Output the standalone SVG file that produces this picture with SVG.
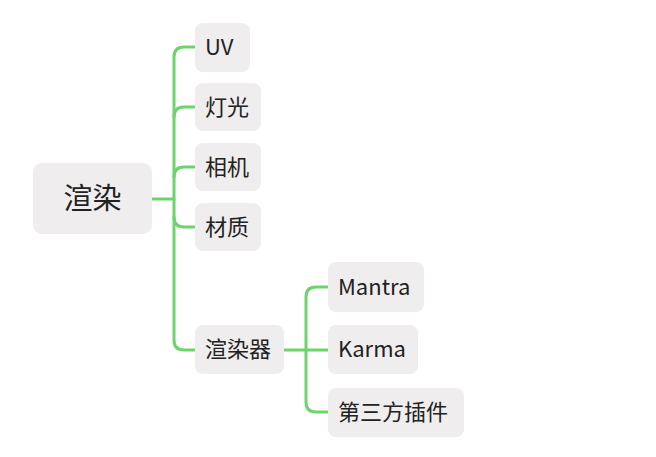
<svg xmlns="http://www.w3.org/2000/svg" width="656" height="457" viewBox="0 0 656 457">
<style>
.n{fill:#efeded}
.t{font-family:"Noto Sans CJK SC","Noto Sans",sans-serif;font-size:22px;fill:#222;dominant-baseline:central}
.r{font-size:29px}
.c{fill:none;stroke:#6fd36b;stroke-width:3;stroke-linecap:round}
</style>
<rect width="656" height="457" fill="#fff"/>
<g id="connectors">
<path class="c" d="M152 199H174"/>
<path class="c" d="M195 47H184Q174 47 174 57V340Q174 350 184 350H195"/>
<path class="c" d="M174 117Q174 107 184 107H195"/>
<path class="c" d="M174 177Q174 167 184 167H195"/>
<path class="c" d="M174 217Q174 227 184 227H195"/>
<path class="c" d="M284 350H328"/>
<path class="c" d="M328 287H316Q306 287 306 297V402Q306 412 316 412H328"/>
</g>
<g id="root"><rect class="n" x="33" y="163" width="119" height="71" rx="9"/><text class="t r" x="92.5" y="196" text-anchor="middle">渲染</text></g>
<g id="uv"><rect class="n" x="195" y="23" width="55" height="49" rx="8"/><text class="t" x="205" y="45">UV</text></g>
<g id="light"><rect class="n" x="195" y="83" width="66" height="48" rx="8"/><text class="t" x="205" y="104.5">灯光</text></g>
<g id="camera"><rect class="n" x="195" y="143" width="66" height="48" rx="8"/><text class="t" x="205" y="164.5">相机</text></g>
<g id="material"><rect class="n" x="195" y="203" width="66" height="48" rx="8"/><text class="t" x="205" y="224.5">材质</text></g>
<g id="renderer"><rect class="n" x="195" y="325" width="89" height="49" rx="8"/><text class="t" x="205" y="347">渲染器</text></g>
<g id="mantra"><rect class="n" x="328" y="262" width="96" height="50" rx="8"/><text class="t" x="338" y="284.5">Mantra</text></g>
<g id="karma"><rect class="n" x="328" y="325" width="90" height="49" rx="8"/><text class="t" x="338" y="347">Karma</text></g>
<g id="thirdparty"><rect class="n" x="328" y="388" width="136" height="49" rx="8"/><text class="t" x="338" y="410">第三方插件</text></g>
</svg>
